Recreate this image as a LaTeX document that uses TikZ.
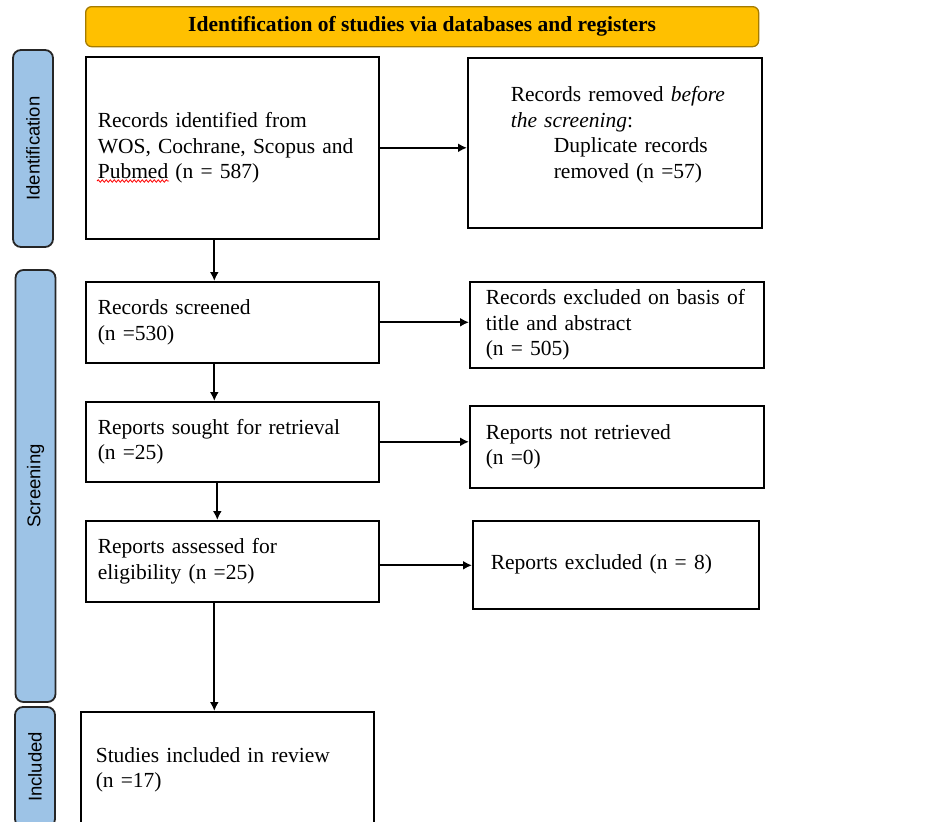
\documentclass[tikz,border=0pt]{standalone}
\usepackage{fontspec}
\setmainfont{Liberation Serif}
\newfontfamily\sidefont{Liberation Sans}
\usetikzlibrary{arrows.meta, decorations.pathmorphing}

\definecolor{bannerfill}{HTML}{FFC000}
\definecolor{bannerline}{HTML}{A57B00}
\definecolor{phasefill}{HTML}{9DC3E6}

\begin{document}
\begin{tikzpicture}[x=1pt, y=-1pt,
    box/.style = {draw, line width=1.6pt, anchor=north west, align=left, inner xsep=12pt,
                  font=\fontsize{21.5}{25.5}\selectfont},
    banner/.style = {draw=bannerline, fill=bannerfill, line width=1.3pt, rounded corners=6pt,
                     anchor=north west, minimum width=673, minimum height=40,
                     font=\fontsize{21.5}{25.5}\selectfont\bfseries},
    phase/.style = {draw=black!85, fill=phasefill, line width=1.8pt, rounded corners=8pt,
                    rotate=90, minimum height=40, font=\sidefont\fontsize{18.5}{20}\selectfont},
    arr/.style = {-{Latex[length=9pt,width=9pt]}, line width=2pt},
    spell/.style = {red, line width=0.8pt, decorate,
                    decoration={snake, amplitude=1.2pt, segment length=4pt}}]

    \useasboundingbox (0,0) rectangle (946,822);

    \node[banner] (head) at (85,6) {Identification of studies via databases and registers};

    \node[phase, minimum width=197] (pid) at (33,148.5) {Identification};
    \node[phase, minimum width=432] (psc) at (35.5,486) {Screening};
    \node[phase, minimum width=120] (pin) at (35,767) {Included};

    \node[box, minimum width=293, minimum height=182, text width=269] (b1) at (85,56)
        {Records identified from\\WOS, Cochrane, Scopus and\\Pubmed (n = 587)};
    \node[box, minimum width=293, minimum height=81, text width=269] (b2) at (85,281)
        {Records screened\\(n =530)};
    \node[box, minimum width=293, minimum height=80, text width=269] (b3) at (85,401)
        {Reports sought for retrieval\\(n =25)};
    \node[box, minimum width=293, minimum height=81, text width=269] (b4) at (85,520)
        {Reports assessed for\\eligibility (n =25)};
    \node[box, minimum width=293, minimum height=116, text width=263, inner xsep=15pt] (b5) at (80,711)
        {Studies included in review\\(n =17)};

    \node[box, minimum width=294, minimum height=170, text width=270] (r1) at (467,57)
        {\hspace*{31pt}Records removed \textit{before}\\\hspace*{31pt}\textit{the screening}:\\
         \hspace*{74pt}Duplicate records\\\hspace*{74pt}removed (n =57)\\[-5pt]\mbox{}};
    \node[box, minimum width=294, minimum height=86, text width=262, inner xsep=16pt] (r2) at (469,281)
        {Records excluded on basis of\\title and abstract\\(n = 505)};
    \node[box, minimum width=294, minimum height=82, text width=262, inner xsep=16pt] (r3) at (469,405)
        {Reports not retrieved\\(n =0)};
    \node[box, minimum width=286, minimum height=88, text width=250, inner xsep=18pt] (r4) at (472,520)
        {Reports excluded (n = 8)};

    \draw[spell] ([shift={(12,125)}]b1.north west) -- ++(72,0);

    \draw[arr] (b1.east) -- (b1.east -| r1.west);
    \draw[arr] (b2.east) -- (b2.east -| r2.west);
    \draw[arr] (b3.east) -- (b3.east -| r3.west);
    \draw[arr] ([yshift=-4]b4.east) -- ([yshift=-4]b4.east -| r4.west);

    \draw[arr] ([xshift=-18]b1.south) -- ([xshift=-18]b2.north);
    \draw[arr] ([xshift=-18]b2.south) -- ([xshift=-18]b3.north);
    \draw[arr] ([xshift=-15]b3.south) -- ([xshift=-15]b4.north);
    \draw[arr] ([xshift=-18]b4.south) -- ([xshift=-18]b4.south |- b5.north);

\end{tikzpicture}
\end{document}
